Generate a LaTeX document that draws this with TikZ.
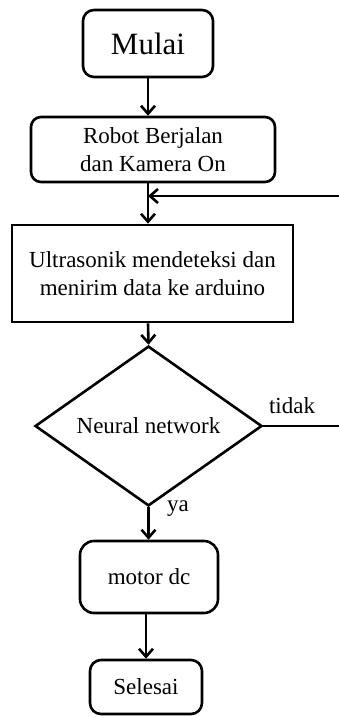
\documentclass[tikz,border=0pt]{standalone}
\usepackage{fontspec}
\setmainfont{Liberation Serif}
\usepackage{tikz}
\usetikzlibrary{shapes}
\usetikzlibrary{positioning, arrows.meta}

\begin{document}
\begin{tikzpicture}[x=1pt, y=1pt, line width=2.6pt,
    >={Straight Barb[length=8pt, width=14pt]},
    startstop/.style={draw, rounded corners=11pt, align=center, inner sep=0pt},
    process/.style={draw, align=center, inner sep=0pt},
    decision/.style={draw, diamond, inner sep=0pt, minimum width=227pt, minimum height=116pt},
    every node/.append style={font=\fontsize{23}{28}\selectfont}]
    \useasboundingbox (0,0) rectangle (339,-717);
    \node [startstop, minimum width=130pt, minimum height=67pt, font=\fontsize{31}{36}\selectfont] (mulai) at (148,-43.5) {Mulai};
    \node [startstop, rounded corners=10pt, minimum width=244pt, minimum height=65pt] (robot) at (153,-149.5) {Robot Berjalan\\dan Kamera On};
    \node [process, minimum width=281pt, minimum height=97pt] (ultra) at (152.5,-273.5) {Ultrasonik mendeteksi dan\\menirim data ke arduino};
    \node [decision] (nn) at (148.5,-426) {Neural network};
    \node [startstop, rounded corners=14pt, minimum width=138pt, minimum height=72pt] (motor) at (149,-577) {motor dc};
    \node [startstop, minimum width=112pt, minimum height=54pt] (selesai) at (146,-687) {Selesai};
    % labels of the two branches
    \node (tidak) at (292,-406) {tidak};
    \node (ya) at (178,-509) {ya};
    % return path, its vertical part lies past the right edge
    \coordinate (back) at (352,-426);
    \coordinate (join) at (148,-196);
    \draw [->] (mulai.south) -- (mulai.south |- robot.north);
    \draw [->] (robot.south -| join) -- (ultra.north -| join);
    \draw [->] (ultra.south -| join) -- (nn.north);
    \draw [->] (nn.south) -- (nn.south |- motor.north);
    \draw [->] (motor.south -| selesai.north) -- (selesai.north);
    \draw [->] (nn.east) -- (back) |- (join);
\end{tikzpicture}
\end{document}
